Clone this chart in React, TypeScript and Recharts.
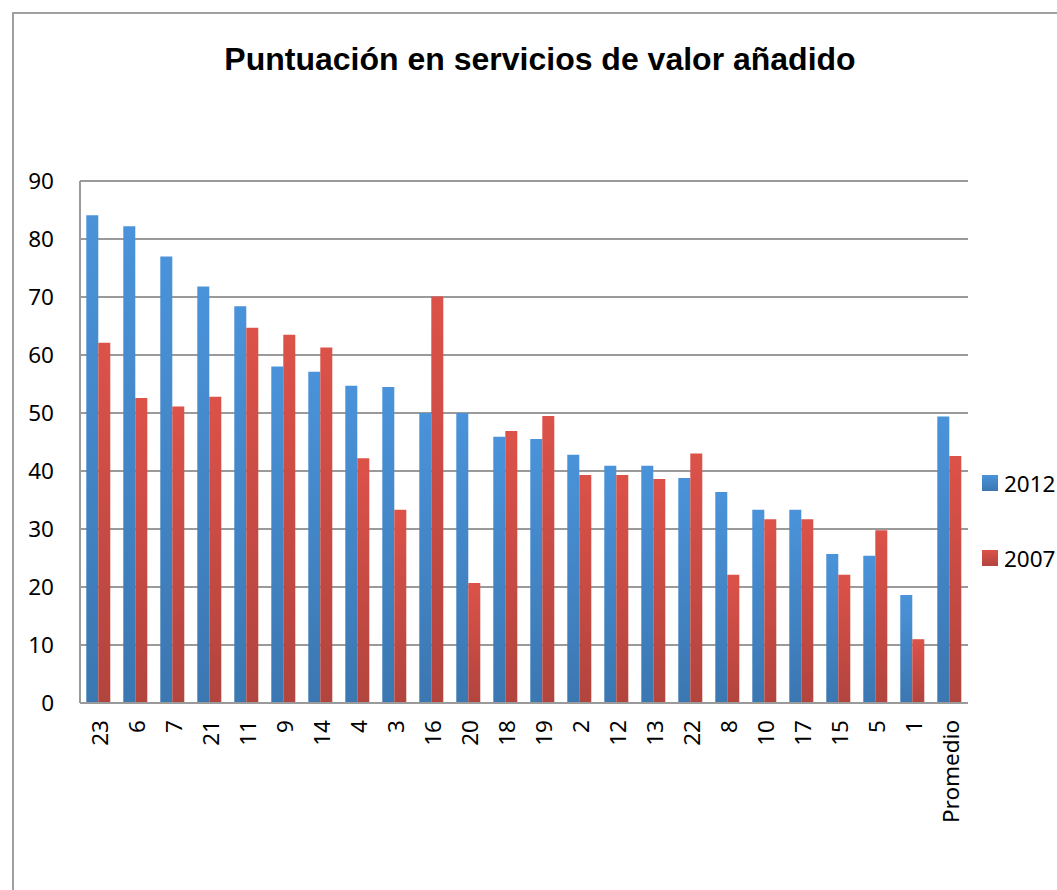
import { Bar, BarChart, CartesianGrid, XAxis, YAxis } from "recharts";

const categories = ["23", "6", "7", "21", "11", "9", "14", "4", "3", "16", "20", "18", "19", "2", "12", "13", "22", "8", "10", "17", "15", "5", "1", "Promedio"];
const values2012 = [84.1, 82.2, 77.0, 71.8, 68.4, 58.0, 57.1, 54.7, 54.5, 50.0, 50.0, 45.9, 45.5, 42.8, 40.9, 40.9, 38.8, 36.4, 33.3, 33.3, 25.7, 25.4, 18.6, 49.4];
const values2007 = [62.1, 52.6, 51.1, 52.8, 64.7, 63.5, 61.3, 42.2, 33.3, 70.1, 20.7, 46.9, 49.5, 39.3, 39.3, 38.6, 43.0, 22.1, 31.7, 31.7, 22.1, 29.8, 11.0, 42.6];
const yTicks = [0, 10, 20, 30, 40, 50, 60, 70, 80, 90];

const data = categories.map((c, i) => ({ name: c, y2012: values2012[i], y2007: values2007[i] }));

const FONT = "'Noto Sans', sans-serif";
const GRID = "#9a9a9a";

const XTick = ({ x, y, payload }: any) => (
  <text x={x} y={y} transform={`rotate(-90, ${x}, ${y})`} dx={-9} dy="0.42em" textAnchor="end"
    fontFamily={FONT} fontSize={22.5} fill="#000">
    {payload.value}
  </text>
);

const legendItems = [
  { label: "2012", a: "#4a93da", b: "#3b77b1", top: 468 },
  { label: "2007", a: "#dc5249", b: "#b2443e", top: 543 },
];

export default function App() {
  return (
    <div style={{ position: "absolute", left: 0, top: 0, width: 1057, height: 890, background: "#fff", overflow: "hidden" }}>
      <div style={{ position: "absolute", left: 12, top: 12, width: 1060, height: 900, border: "2px solid #a0a0a0", boxSizing: "border-box" }} />
      <div style={{ position: "absolute", left: 0, top: 41, width: 1080, textAlign: "center", fontFamily: "'Liberation Sans', Arial, sans-serif", fontWeight: "bold", fontSize: 32, color: "#000" }}>
        Puntuación en servicios de valor añadido
      </div>
      <div style={{ position: "absolute", left: 0, top: 0 }}>
        <BarChart width={1057} height={890} data={data} margin={{ top: 181, right: 89, left: 0, bottom: 157 }}
          barGap={0} barCategoryGap="17%">
          <defs>
            <linearGradient id="gBlue" x1="0" y1="0" x2="0" y2="1">
              <stop offset="0%" stopColor="#4a93da" />
              <stop offset="100%" stopColor="#3b77b1" />
            </linearGradient>
            <linearGradient id="gRed" x1="0" y1="0" x2="0" y2="1">
              <stop offset="0%" stopColor="#dc5249" />
              <stop offset="100%" stopColor="#b2443e" />
            </linearGradient>
          </defs>
          <CartesianGrid vertical={false} stroke={GRID} strokeWidth={2} />
          <XAxis dataKey="name" interval={0} height={30} tick={<XTick />} tickLine={false} axisLine={{ stroke: GRID, strokeWidth: 2 }} />
          <YAxis domain={[0, 90]} ticks={yTicks} width={80} tickLine={false} tickSize={0} tickMargin={26}
            axisLine={{ stroke: GRID, strokeWidth: 2 }}
            tick={{ fontFamily: FONT, fontSize: 22.5, fill: "#000" }} />
          <Bar dataKey="y2012" name="2012" fill="url(#gBlue)" isAnimationActive={false} />
          <Bar dataKey="y2007" name="2007" fill="url(#gRed)" isAnimationActive={false} />
        </BarChart>
      </div>
      {legendItems.map((it) => (
        <div key={it.label} style={{ position: "absolute", left: 982, top: it.top, display: "flex", alignItems: "center", height: 30, fontFamily: FONT, fontSize: 22.5, color: "#000" }}>
          <div style={{ width: 16, height: 16, background: `linear-gradient(${it.a}, ${it.b})`, marginRight: 6 }} />
          <span>{it.label}</span>
        </div>
      ))}
    </div>
  );
}
